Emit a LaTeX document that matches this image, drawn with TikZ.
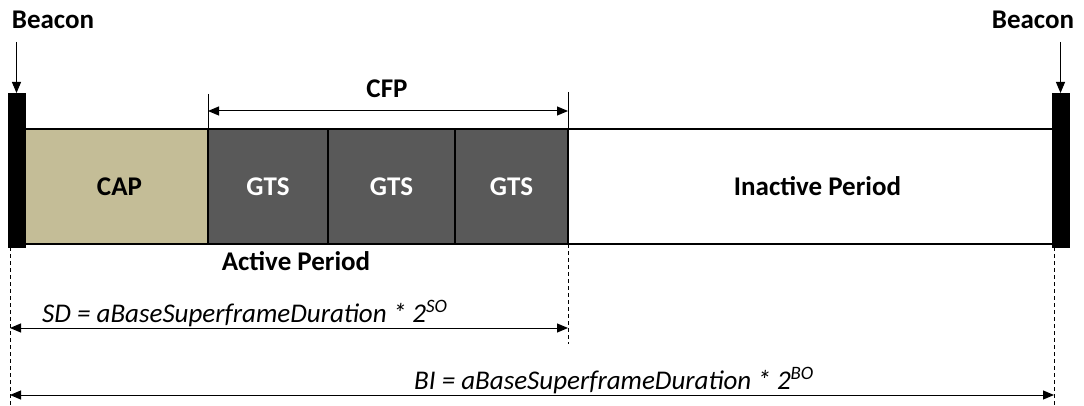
\documentclass[tikz,border=0pt]{standalone}
\usepackage{fontspec}
\setmainfont{Carlito}
\usetikzlibrary{arrows.meta}
\definecolor{capfill}{HTML}{C4BD97}
\definecolor{gtsfill}{HTML}{595959}
\begin{document}
\begin{tikzpicture}[x=1pt,y=-1pt,
  seg/.style={draw=black, line width=2pt, minimum height=115pt, inner sep=0pt, outer sep=0pt,
              font=\fontsize{27}{32}\selectfont\bfseries},
  gts/.style={seg, fill=gtsfill, text=white},
  beaconbar/.style={fill=black, draw=black, minimum width=17pt, minimum height=154pt,
                    inner sep=0pt, outer sep=0pt},
  lbl/.style={font=\fontsize{27}{32}\selectfont\bfseries, inner sep=0pt},
  formula/.style={font=\fontsize{27}{32}\selectfont\itshape, inner sep=0pt},
  tip/.tip={Triangle[length=11pt,width=9pt]},
  arr/.style={line width=1pt, -tip},
  dimarr/.style={line width=1pt, tip-tip},
  guide/.style={line width=0.9pt, dash pattern=on 4pt off 3pt}]
\useasboundingbox (0,0) rectangle (1084,406);

% superframe segments
\node[seg, fill=capfill, minimum width=183pt] (cap) at (116.5,186.5) {\hspace{6pt}CAP};
\node[gts, minimum width=120pt] (g1) at (268,186.5) {GTS};
\node[gts, minimum width=127pt] (g2) at (391.5,186.5) {GTS};
\node[gts, minimum width=113pt] (g3) at (511.5,186.5) {GTS};
\node[seg, fill=white, minimum width=485pt] (inact) at (810.5,186.5) {\hspace{14pt}Inactive Period};

% beacon frames
\node[beaconbar] (bl) at (16.5,170) {};
\node[beaconbar] (br) at (1060.5,170) {};
\node[lbl] (btl) at (53,20) {Beacon};
\node[lbl] (btr) at (1033,20) {Beacon};
\draw[arr] ([yshift=51pt]bl.north) -- (bl.north);
\draw[arr] ([yshift=51pt]br.north) -- (br.north);

% contention-free period
\coordinate (cfpa) at ([yshift=18pt]g1.north west);
\coordinate (cfpb) at ([yshift=18pt]g3.north east);
\draw[line width=1pt] ([yshift=35pt]g1.north west) -- (g1.north west);
\draw[line width=1pt] ([yshift=37pt]g3.north east) -- (g3.north east);
\draw[dimarr] (cfpa) -- (cfpb);
\node[lbl] (cfp) at (387,89) {CFP};

\node[lbl] (act) at (296,261) {Active Period};

% guide lines
\coordinate (gl1) at (10,247);
\coordinate (gl2) at (10,406);
\coordinate (gm1) at (568,244);
\coordinate (gm2) at (568,344);
\coordinate (gr1) at (1054,247);
\coordinate (gr2) at (1054,406);
\draw[guide] (gl1) -- (gl2);
\draw[guide] (gm1) -- (gm2);
\draw[guide] (gr1) -- (gr2);

% durations
\coordinate (sda) at (10,328);
\coordinate (sdb) at (568,328);
\coordinate (bia) at (10,395);
\coordinate (bib) at (1054,395);
\draw[dimarr] (sda) -- (sdb);
\draw[dimarr] (bia) -- (bib);
\node[formula, anchor=base west] (sd) at (42,322) {SD = aBaseSuperframeDuration * 2\textsuperscript{SO}};
\node[formula, anchor=base west] (bi) at (414,389) {BI = aBaseSuperframeDuration * 2\textsuperscript{BO}};
\end{tikzpicture}
\end{document}
